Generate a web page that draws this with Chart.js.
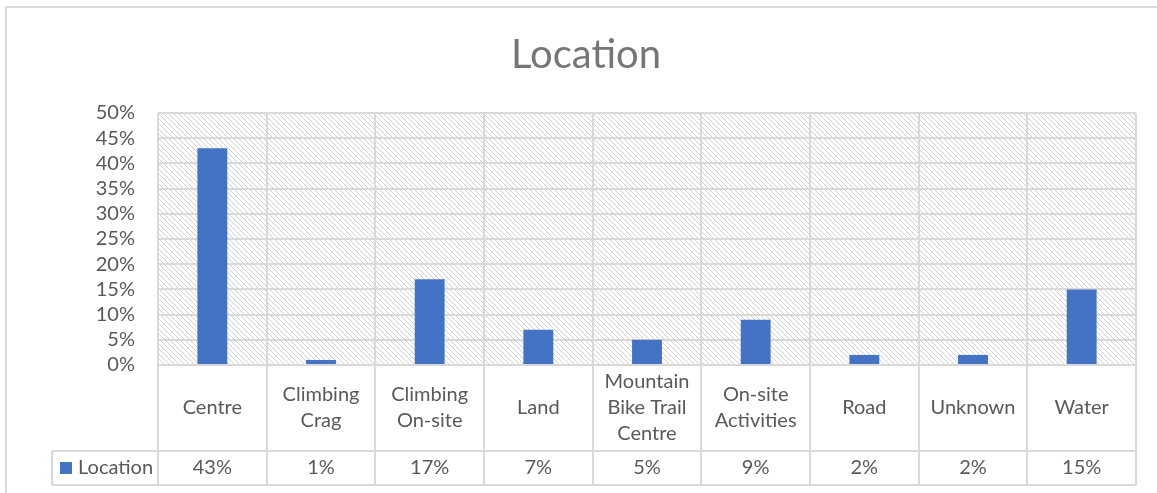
<!DOCTYPE html>
<html>
<head>
<meta charset="utf-8">
<script src="https://cdn.jsdelivr.net/npm/chart.js@4.4.1/dist/chart.umd.min.js"></script>
<style>
  body { margin: 0; background: #fff; }
  .chartBox { width: 1157px; height: 493px; }
</style>
</head>
<body>
<div class="chartBox"><canvas id="myChart"></canvas></div>
<script>
// categories (multi-line where the table cell wraps), values in %
var categories = ['Centre', ['Climbing', 'Crag'], ['Climbing', 'On-site'], 'Land',
  ['Mountain', 'Bike Trail', 'Centre'], ['On-site', 'Activities'], 'Road', 'Unknown', 'Water'];
var seriesName = 'Location';
var values = [43, 1, 17, 7, 5, 9, 2, 2, 15];
var yMin = 0, yMax = 50, yStep = 5;

var lineColor = '#d9d9d9';
var textColor = '#595959';
var barColor = '#4472c4';
var fontFamily = 'Lato, "Open Sans", sans-serif';

// diagonal hatch for the plot background
function hatch(ctx) {
  var c = document.createElement('canvas');
  c.width = 5; c.height = 5;
  var g = c.getContext('2d');
  g.strokeStyle = '#d2d2d2';
  g.lineWidth = 1;
  g.beginPath();
  g.moveTo(-1, -1); g.lineTo(6, 6);
  g.moveTo(-1, 4); g.lineTo(1, 6);
  g.moveTo(4, -1); g.lineTo(6, 1);
  g.stroke();
  return ctx.createPattern(c, 'repeat');
}

var tablePlugin = {
  id: 'dataTable',
  beforeDraw: function(chart) {
    var ctx = chart.ctx, a = chart.chartArea;
    ctx.save();
    ctx.fillStyle = '#fff';
    ctx.fillRect(0, 0, chart.width, chart.height);
    // outer frame (top and left edges)
    ctx.strokeStyle = lineColor;
    ctx.lineWidth = 2;
    ctx.beginPath();
    ctx.moveTo(6, 7); ctx.lineTo(chart.width, 7);
    ctx.moveTo(6, 7); ctx.lineTo(6, chart.height);
    ctx.stroke();
    ctx.fillStyle = hatch(ctx);
    ctx.fillRect(a.left, a.top, a.right - a.left, a.bottom - a.top);
    ctx.restore();
  },
  afterDraw: function(chart) {
    var ctx = chart.ctx, a = chart.chartArea, x = chart.scales.x;
    var half = (x.getPixelForValue(1) - x.getPixelForValue(0)) / 2;
    var row1 = a.bottom + 86, row2 = a.bottom + 120;
    var legendLeft = 52;
    ctx.save();
    ctx.strokeStyle = lineColor;
    ctx.lineWidth = 2;
    ctx.beginPath();
    for (var i = 0; i <= categories.length; i++) {
      var xb = Math.round(x.getPixelForValue(i) - half);
      ctx.moveTo(xb, a.bottom); ctx.lineTo(xb, row2);
    }
    ctx.moveTo(legendLeft, row1); ctx.lineTo(a.right, row1);
    ctx.moveTo(legendLeft, row2); ctx.lineTo(a.right, row2);
    ctx.moveTo(legendLeft, row1); ctx.lineTo(legendLeft, row2);
    ctx.stroke();

    ctx.fillStyle = textColor;
    ctx.font = '20px ' + fontFamily;
    ctx.textAlign = 'center';
    ctx.textBaseline = 'middle';
    var mid1 = (a.bottom + row1) / 2, mid2 = (row1 + row2) / 2;
    categories.forEach(function(lab, i) {
      var lines = Array.isArray(lab) ? lab : [lab];
      var cx = x.getPixelForValue(i);
      var y0 = mid1 - (lines.length - 1) * 13;
      lines.forEach(function(t, j) { ctx.fillText(t, cx, y0 + j * 26); });
      ctx.fillText(values[i] + '%', cx, mid2);
    });

    // legend key in the table
    ctx.fillStyle = barColor;
    ctx.fillRect(60, mid2 - 6, 12, 12);
    ctx.fillStyle = textColor;
    ctx.textAlign = 'left';
    ctx.fillText(seriesName, 78, mid2);
    ctx.restore();
  }
};

var ctx = document.getElementById('myChart').getContext('2d');
var myChart = new Chart(ctx, {
  type: 'bar',
  data: {
    labels: categories,
    datasets: [{
      label: seriesName,
      data: values,
      backgroundColor: barColor,
      borderWidth: 0,
      barPercentage: 0.275,
      categoryPercentage: 1
    }]
  },
  options: {
    responsive: true,
    maintainAspectRatio: false,
    animation: false,
    layout: { padding: { left: 36, right: 21, top: 0, bottom: 0 } },
    plugins: {
      legend: { display: false },
      tooltip: { enabled: false },
      title: {
        display: true,
        text: seriesName,
        color: '#767676',
        font: { family: fontFamily, size: 40, weight: 'normal' },
        padding: { top: 31, bottom: 34 }
      }
    },
    scales: {
      x: {
        offset: true,
        ticks: { display: false },
        grid: { color: lineColor, lineWidth: 2, drawTicks: false, offset: true },
        border: { display: false },
        afterFit: function(scale) { scale.height = 128; }
      },
      y: {
        min: yMin,
        max: yMax,
        ticks: {
          stepSize: yStep,
          autoSkip: false,
          color: textColor,
          padding: 23,
          font: { family: fontFamily, size: 20 },
          callback: function(v) { return v + '%'; }
        },
        grid: { color: lineColor, lineWidth: 2, drawTicks: false },
        border: { display: false },
        afterFit: function(scale) { scale.width = 122; }
      }
    }
  },
  plugins: [tablePlugin]
});
</script>
</body>
</html>
